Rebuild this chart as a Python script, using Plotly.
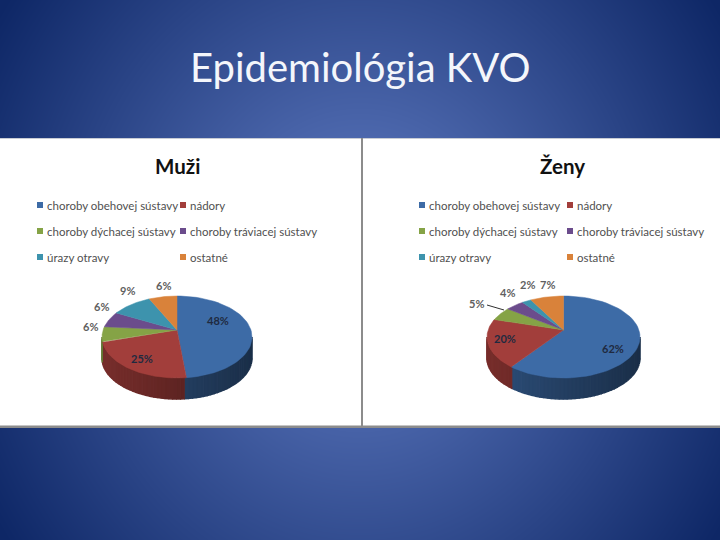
#!/usr/bin/env python3
# plot.py
# Epidemiologia KVO slide: two tilted 3D-looking pies, men and women
import base64
import struct
import zlib

import numpy as np
import plotly.graph_objects as go

# --- Data ---
title = "Epidemiológia KVO"
panel_titles = ["Muži", "Ženy"]
categories = [
    "choroby obehovej sústavy",
    "nádory",
    "choroby dýchacej sústavy",
    "choroby tráviacej sústavy",
    "úrazy otravy",
    "ostatné",
]
muzi_values = [48, 25, 6, 6, 9, 6]
zeny_values = [62, 20, 5, 4, 2, 7]
colors = ["#3d6ba6", "#a23e3b", "#85a346", "#6b4c8c", "#3d93ad", "#d9823a"]

# pixel-style canvas, same as the 720x540 window
W, H = 720, 540
FONT = "Lato"


def hex_rgb(c):
    return [int(c[i:i + 2], 16) for i in (1, 3, 5)]


def background_png():
    # radial blue slide background
    yy, xx = np.mgrid[0:H, 0:W]
    d = np.sqrt(((xx - 360) / 430.0) ** 2 + ((yy - 270) / 480.0) ** 2)
    t = np.clip(d, 0, 1)[..., None]
    inner = np.array([100, 128, 200])
    outer = np.array([14, 39, 102])
    img = (inner + (outer - inner) * t).astype(np.uint8)
    raw = b"".join(b"\x00" + row.tobytes() for row in img)

    def chunk(tag, payload):
        crc = zlib.crc32(tag + payload)
        return struct.pack(">I", len(payload)) + tag + payload + struct.pack(">I", crc)

    png = b"\x89PNG\r\n\x1a\n"
    png += chunk(b"IHDR", struct.pack(">IIBBBBB", W, H, 8, 2, 0, 0, 0))
    png += chunk(b"IDAT", zlib.compress(raw))
    png += chunk(b"IEND", b"")
    return "data:image/png;base64," + base64.b64encode(png).decode()


fig = go.Figure()


def ell(cx, cy, rx, ry, deg):
    # deg runs clockwise from 12 o'clock
    a = np.radians(deg)
    return cx + rx * np.sin(a), cy - ry * np.cos(a)


def add_poly(xs, ys, color, width=0.5):
    fig.add_trace(go.Scatter(
        x=xs, y=ys, mode="lines", fill="toself", fillcolor=color,
        line=dict(color=color, width=width), hoverinfo="skip", showlegend=False,
    ))


def draw_pie(values, cx, cy, rx, ry, apex_y, depth):
    edges = np.cumsum([0] + values) / sum(values) * 360.0

    # side wall first, thin strips so it can get darker to the right
    steps = np.arange(90, 270, 3.0)
    for a0 in steps:
        a1 = a0 + 3.0
        mid = (a0 + a1) / 2
        i = int(np.searchsorted(edges, mid) - 1)
        arc = np.linspace(a0, a1, 3)
        x, y = ell(cx, cy, rx, ry, arc)
        shade = 0.74 - 0.30 * (x.mean() - (cx - rx)) / (2 * rx)
        rgb = [int(v * shade) for v in hex_rgb(colors[i])]
        # wider line hides the seams between strips
        add_poly(list(x) + list(x[::-1]), list(y) + list((y + depth)[::-1]),
                 "rgb(%d,%d,%d)" % tuple(rgb), width=1.5)

    # top surface
    for i in range(len(values)):
        arc = np.linspace(edges[i], edges[i + 1], 60)
        x, y = ell(cx, cy, rx, ry, arc)
        add_poly([cx] + list(x) + [cx], [apex_y] + list(y) + [apex_y], colors[i])


draw_pie(muzi_values, 177, 337, 75, 41, 330, 21)
draw_pie(zeny_values, 563.5, 337, 76.5, 41, 330, 21)

# leader line for the 5 % slice
fig.add_trace(go.Scatter(x=[487, 504], y=[305, 310], mode="lines",
                         line=dict(color="#303030", width=1),
                         hoverinfo="skip", showlegend=False))

annotations = [dict(x=360, y=67, text=title, showarrow=False,
                    font=dict(family=FONT, size=40, color="#f4f6fb"))]


def add_text(x, y, text, size, color, anchor="center", bold=False):
    if bold:
        text = "<b>" + text + "</b>"
    annotations.append(dict(x=x, y=y, text=text, showarrow=False, xanchor=anchor,
                            font=dict(family=FONT, size=size, color=color)))


# legends, 3 rows by 2 columns
legend_rows = [205, 231, 257]
legend_cols = [[40, 183], [422, 570]]
for col_x, center_x, name in zip(legend_cols, [177, 562], panel_titles):
    add_text(center_x, 166, name, 20.5, "#111111", bold=True)
    for i, cat in enumerate(categories):
        sq_x = col_x[i % 2]
        sq_y = legend_rows[i // 2]
        fig.add_trace(go.Scatter(
            x=[sq_x], y=[sq_y], mode="markers",
            marker=dict(symbol="square", size=6, color=colors[i]),
            hoverinfo="skip", showlegend=False,
        ))
        add_text(sq_x + 5, sq_y, cat, 11.5, "#505050", anchor="left")

# percent labels
muzi_label_pos = [(218, 320), (142, 358), (90, 326), (101, 306), (127, 290), (163, 285)]
zeny_label_pos = [(613, 348), (505, 338), (476, 303), (507, 292), (527, 284), (547, 284)]
for vals, pos in ((muzi_values, muzi_label_pos), (zeny_values, zeny_label_pos)):
    for i, (v, (x, y)) in enumerate(zip(vals, pos)):
        inside = i < 2
        add_text(x, y, "%d%%" % v, 11, "#1f2a40" if inside else "#606060", bold=True)

shapes = [
    dict(type="rect", x0=0, x1=W, y0=138, y1=426, fillcolor="white",
         line=dict(width=0), layer="between"),
    dict(type="rect", x0=0, x1=W, y0=138, y1=139, fillcolor="#c8ccd4",
         line=dict(width=0), layer="between"),
    dict(type="rect", x0=361, x1=363, y0=138, y1=426, fillcolor="#8c8c8c",
         line=dict(width=0), layer="between"),
    dict(type="rect", x0=0, x1=W, y0=425.5, y1=428, fillcolor="#8c8c8c",
         line=dict(width=0), layer="between"),
]

fig.update_layout(
    width=W, height=H,
    margin=dict(l=0, r=0, t=0, b=0),
    paper_bgcolor="#1a3060",
    plot_bgcolor="rgba(0,0,0,0)",
    showlegend=False,
    xaxis=dict(range=[0, W], visible=False, fixedrange=True),
    yaxis=dict(range=[H, 0], visible=False, fixedrange=True),
    images=[dict(source=background_png(), xref="x", yref="y", x=0, y=0,
                 sizex=W, sizey=H, sizing="stretch", layer="below",
                 xanchor="left", yanchor="top")],
    shapes=shapes,
    annotations=annotations,
)

# page margin off so the slide fills the window
fig.write_html("out.html", config=dict(displayModeBar=False),
               post_script="document.body.style.margin='0';")
